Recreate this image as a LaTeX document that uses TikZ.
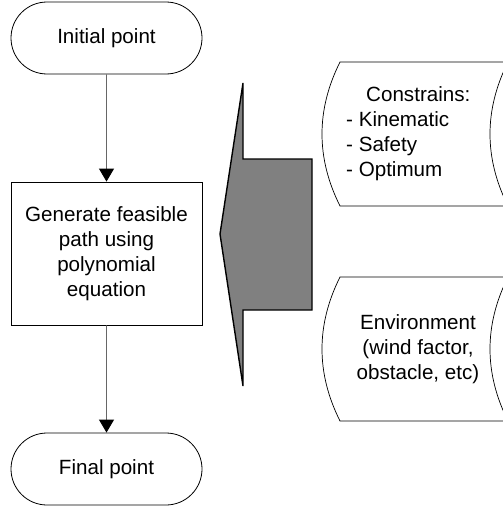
\documentclass[tikz,border=0pt]{standalone}
\usepackage{fontspec}
\setmainfont{Liberation Sans}
\usetikzlibrary{shapes.misc,arrows.meta}
\begin{document}
\begin{tikzpicture}[x=1pt,y=-1pt,
  txt/.style={font=\fontsize{20.6}{25}\selectfont, align=center, inner sep=0pt},
  termbox/.style={draw=black, line width=0.8pt, rounded rectangle, minimum width=191pt, minimum height=72pt, txt},
  procbox/.style={draw=black, line width=0.8pt, rectangle, minimum width=191pt, minimum height=143pt, txt},
  flow/.style={draw=black!60, line width=0.9pt, -{Triangle[width=15pt,length=13pt,fill=black,color=black]}},
  stored/.style={draw=black, line width=0.7pt, fill=white},
  bigarrow/.style={draw=black, line width=1.4pt, fill=black!50, line join=miter}
]
\useasboundingbox (0,0) rectangle (503,506);
\clip (0,0) rectangle (503,506);

% flowchart
\node[termbox] (init) at (106.5,38) {Initial point};
\node[procbox] (gen) at (106.5,253.5) {Generate feasible\\path using\\polynomial\\equation};
\node[termbox] (final) at (106.5,469) {Final point};
\draw[flow] (init) -- (gen);
\draw[flow] (gen) -- (final);

% big gray arrow
\draw[bigarrow] (243,83) -- (220,234) -- (243,386) -- (243,310) -- (312,310) -- (312,159) -- (243,159) -- cycle;

% stored data shapes
\draw[stored] (340,62) -- (508,62) .. controls (484,110) and (484,158) .. (508,206) -- (340,206) .. controls (316,158) and (316,110) .. (340,62) -- cycle;
\draw[stored] (340,277) -- (508,277) .. controls (484,325) and (484,373) .. (508,421) -- (340,421) .. controls (316,373) and (316,325) .. (340,277) -- cycle;

\node[txt, align=left, anchor=west] (cons) at (346,134) {\hspace*{20pt}Constrains:\\- Kinematic\\- Safety\\- Optimum};
\node[txt] (env) at (418,349) {Environment\\(wind factor,\\obstacle, etc)};
\end{tikzpicture}
\end{document}
